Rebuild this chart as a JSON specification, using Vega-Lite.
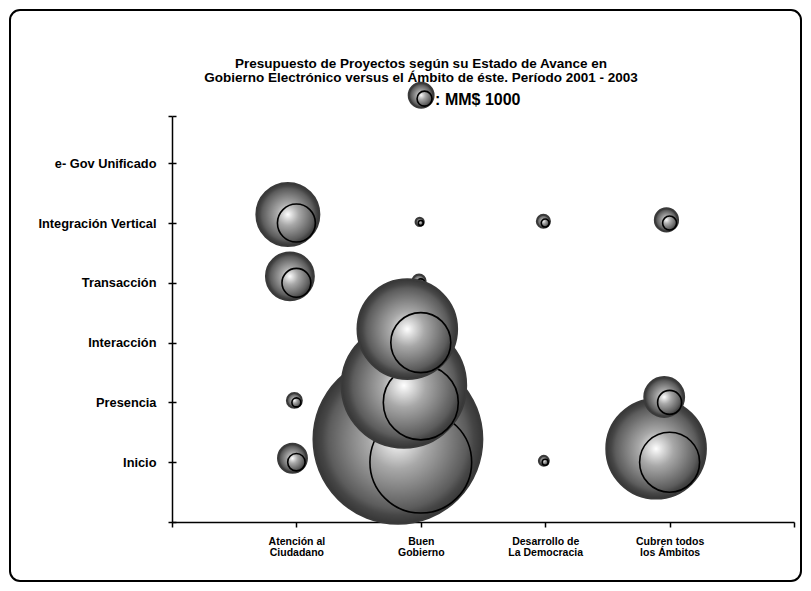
{
  "$schema": "https://vega.github.io/schema/vega-lite/v6.json",
  "width": 791,
  "height": 571,
  "padding": 10,
  "autosize": "none",
  "background": "white",
  "config": {
    "view": {"stroke": "black", "strokeWidth": 2, "cornerRadius": 10},
    "font": "Liberation Sans"
  },
  "title": {
    "text": ["Presupuesto de Proyectos según su Estado de Avance en", "Gobierno Electrónico versus el Ámbito de éste. Período 2001 - 2003"],
    "anchor": "middle",
    "frame": "group",
    "dx": 15.5,
    "offset": -88,
    "baseline": "bottom",
    "font": "Liberation Sans",
    "fontSize": 13.5,
    "fontWeight": "bold",
    "color": "black",
    "lineHeight": 14
  },
  "datasets": {
    "burbujas": [
      {"ambito": "Buen Gobierno", "estado": "Inicio", "x": 2, "y": 1, "v": 46000},
      {"ambito": "Cubren todos los Ámbitos", "estado": "Inicio", "x": 4, "y": 1, "v": 16000},
      {"ambito": "Atención al Ciudadano", "estado": "Integración Vertical", "x": 1, "y": 5, "v": 6400},
      {"ambito": "Atención al Ciudadano", "estado": "Transacción", "x": 1, "y": 4, "v": 3700},
      {"ambito": "Cubren todos los Ámbitos", "estado": "Presencia", "x": 4, "y": 2, "v": 2560},
      {"ambito": "Atención al Ciudadano", "estado": "Inicio", "x": 1, "y": 1, "v": 1350},
      {"ambito": "Cubren todos los Ámbitos", "estado": "Integración Vertical", "x": 4, "y": 5, "v": 870},
      {"ambito": "Atención al Ciudadano", "estado": "Presencia", "x": 1, "y": 2, "v": 360},
      {"ambito": "Buen Gobierno", "estado": "Transacción", "x": 2, "y": 4, "v": 280},
      {"ambito": "Desarrollo de La Democracia", "estado": "Integración Vertical", "x": 3, "y": 5, "v": 280},
      {"ambito": "Desarrollo de La Democracia", "estado": "Inicio", "x": 3, "y": 1, "v": 160},
      {"ambito": "Buen Gobierno", "estado": "Integración Vertical", "x": 2, "y": 5, "v": 110},
      {"ambito": "Buen Gobierno", "estado": "Presencia", "x": 2, "y": 2, "v": 25000},
      {"ambito": "Buen Gobierno", "estado": "Interacción", "x": 2, "y": 3, "v": 16000}
    ],
    "leyenda": [
      {"etiqueta": ": MM$ 1000", "v": 1000}
    ]
  },
  "layer": [
    {
      "data": {"name": "burbujas"},
      "transform": [{"filter": "!(datum.x == 2 && (datum.y == 2 || datum.y == 3))"}],
      "mark": {"type": "point", "shape": "circle", "filled": true, "opacity": 1, "fillOpacity": 1, "stroke": "#3a3a3a", "strokeWidth": 2,
        "xOffset": {"expr": "-3.375*sqrt(datum.v/1000)"}, "yOffset": {"expr": "-3.375*sqrt(datum.v/1000)"},
        "fill": {"gradient": "radial", "x1": 0.5, "y1": 0.5, "r1": 0, "x2": 0.5, "y2": 0.5, "r2": 0.5,
          "stops": [{"offset": 0, "color": "#ffffff"}, {"offset": 0.12, "color": "#e0e0e0"}, {"offset": 0.35, "color": "#a8a8a8"}, {"offset": 0.6, "color": "#808080"}, {"offset": 0.82, "color": "#5c5c5c"}, {"offset": 0.9, "color": "#464646"}, {"offset": 1, "color": "#363636"}]}},
      "encoding": {
        "x": {"field": "x", "type": "quantitative", "scale": {"domain": [0, 5], "range": [162, 784], "nice": false, "zero": false},
          "axis": {"title": null, "orient": "bottom", "offset": -59, "values": [0, 1, 2, 3, 4, 5], "grid": false, "domainColor": "black", "domainWidth": 1.5, "tickColor": "black", "tickWidth": 1.5, "tickSize": 5,
            "labelExpr": "datum.value == 1 ? ['Atención al', 'Ciudadano'] : datum.value == 2 ? ['Buen', 'Gobierno'] : datum.value == 3 ? ['Desarrollo de', 'La Democracia'] : datum.value == 4 ? ['Cubren todos', 'los Ámbitos'] : ''",
            "labelFont": "Liberation Sans", "labelFontWeight": "bold", "labelFontSize": 10.5, "labelColor": "black", "labelLineHeight": 11, "labelPadding": 9, "labelOverlap": false, "labelFlush": false, "labelBaseline": "top"}},
        "y": {"field": "y", "type": "quantitative", "scale": {"domain": [0, 6.79], "range": [512, 106], "nice": false, "zero": false},
          "axis": {"title": null, "orient": "left", "offset": -162, "values": [0, 1, 2, 3, 4, 5, 6, 6.79], "grid": false, "domainColor": "black", "domainWidth": 1.5, "tickColor": "black", "tickWidth": 1.5, "tickSize": 4,
            "labelExpr": "datum.value == 1 ? 'Inicio' : datum.value == 2 ? 'Presencia' : datum.value == 3 ? 'Interacción' : datum.value == 4 ? 'Transacción' : datum.value == 5 ? 'Integración Vertical' : datum.value == 6 ? 'e- Gov Unificado' : ''",
            "labelFont": "Liberation Sans", "labelFontWeight": "bold", "labelFontSize": 12.8, "labelColor": "black", "labelPadding": 12, "labelOverlap": false, "labelFlush": false}},
        "size": {"field": "v", "type": "quantitative", "scale": {"type": "linear", "domain": [0, 1000], "range": [0, 620], "zero": true}, "legend": null}
      }
    },
    {
      "data": {"name": "burbujas"},
      "transform": [{"filter": "!(datum.x == 2 && (datum.y == 2 || datum.y == 3))"}],
      "mark": {"type": "point", "shape": "circle", "filled": false, "opacity": 1, "stroke": "black", "strokeWidth": 1.6},
      "encoding": {
        "x": {"field": "x", "type": "quantitative", "scale": {"domain": [0, 5], "range": [162, 784], "nice": false, "zero": false}},
        "y": {"field": "y", "type": "quantitative", "scale": {"domain": [0, 6.79], "range": [512, 106], "nice": false, "zero": false}, "axis": null},
        "size": {"field": "v", "type": "quantitative", "scale": {"type": "linear", "domain": [0, 1000], "range": [0, 225], "zero": true}, "legend": null}
      }
    },
    {
      "data": {"name": "burbujas"},
      "transform": [{"filter": "datum.x == 2 && datum.y == 2"}],
      "mark": {"type": "point", "shape": "circle", "filled": true, "opacity": 1, "fillOpacity": 1, "stroke": "#3a3a3a", "strokeWidth": 2,
        "xOffset": {"expr": "-3.375*sqrt(datum.v/1000)"}, "yOffset": {"expr": "-3.375*sqrt(datum.v/1000)"},
        "fill": {"gradient": "radial", "x1": 0.5, "y1": 0.5, "r1": 0, "x2": 0.5, "y2": 0.5, "r2": 0.5,
          "stops": [{"offset": 0, "color": "#ffffff"}, {"offset": 0.12, "color": "#e0e0e0"}, {"offset": 0.35, "color": "#a8a8a8"}, {"offset": 0.6, "color": "#808080"}, {"offset": 0.82, "color": "#5c5c5c"}, {"offset": 0.9, "color": "#464646"}, {"offset": 1, "color": "#363636"}]}},
      "encoding": {
        "x": {"field": "x", "type": "quantitative", "scale": {"domain": [0, 5], "range": [162, 784], "nice": false, "zero": false}},
        "y": {"field": "y", "type": "quantitative", "scale": {"domain": [0, 6.79], "range": [512, 106], "nice": false, "zero": false}, "axis": null},
        "size": {"field": "v", "type": "quantitative", "scale": {"type": "linear", "domain": [0, 1000], "range": [0, 620], "zero": true}, "legend": null}
      }
    },
    {
      "data": {"name": "burbujas"},
      "transform": [{"filter": "datum.x == 2 && datum.y == 2"}],
      "mark": {"type": "point", "shape": "circle", "filled": false, "opacity": 1, "stroke": "black", "strokeWidth": 1.6},
      "encoding": {
        "x": {"field": "x", "type": "quantitative", "scale": {"domain": [0, 5], "range": [162, 784], "nice": false, "zero": false}},
        "y": {"field": "y", "type": "quantitative", "scale": {"domain": [0, 6.79], "range": [512, 106], "nice": false, "zero": false}, "axis": null},
        "size": {"field": "v", "type": "quantitative", "scale": {"type": "linear", "domain": [0, 1000], "range": [0, 225], "zero": true}, "legend": null}
      }
    },
    {
      "data": {"name": "burbujas"},
      "transform": [{"filter": "datum.x == 2 && datum.y == 3"}],
      "mark": {"type": "point", "shape": "circle", "filled": true, "opacity": 1, "fillOpacity": 1, "stroke": "#3a3a3a", "strokeWidth": 2,
        "xOffset": {"expr": "-3.375*sqrt(datum.v/1000)"}, "yOffset": {"expr": "-3.375*sqrt(datum.v/1000)"},
        "fill": {"gradient": "radial", "x1": 0.5, "y1": 0.5, "r1": 0, "x2": 0.5, "y2": 0.5, "r2": 0.5,
          "stops": [{"offset": 0, "color": "#ffffff"}, {"offset": 0.12, "color": "#e0e0e0"}, {"offset": 0.35, "color": "#a8a8a8"}, {"offset": 0.6, "color": "#808080"}, {"offset": 0.82, "color": "#5c5c5c"}, {"offset": 0.9, "color": "#464646"}, {"offset": 1, "color": "#363636"}]}},
      "encoding": {
        "x": {"field": "x", "type": "quantitative", "scale": {"domain": [0, 5], "range": [162, 784], "nice": false, "zero": false}},
        "y": {"field": "y", "type": "quantitative", "scale": {"domain": [0, 6.79], "range": [512, 106], "nice": false, "zero": false}, "axis": null},
        "size": {"field": "v", "type": "quantitative", "scale": {"type": "linear", "domain": [0, 1000], "range": [0, 620], "zero": true}, "legend": null}
      }
    },
    {
      "data": {"name": "burbujas"},
      "transform": [{"filter": "datum.x == 2 && datum.y == 3"}],
      "mark": {"type": "point", "shape": "circle", "filled": false, "opacity": 1, "stroke": "black", "strokeWidth": 1.6},
      "encoding": {
        "x": {"field": "x", "type": "quantitative", "scale": {"domain": [0, 5], "range": [162, 784], "nice": false, "zero": false}},
        "y": {"field": "y", "type": "quantitative", "scale": {"domain": [0, 6.79], "range": [512, 106], "nice": false, "zero": false}, "axis": null},
        "size": {"field": "v", "type": "quantitative", "scale": {"type": "linear", "domain": [0, 1000], "range": [0, 225], "zero": true}, "legend": null}
      }
    },
    {
      "data": {"name": "leyenda"},
      "mark": {"type": "point", "shape": "circle", "filled": true, "opacity": 1, "fillOpacity": 1, "stroke": "#3a3a3a", "strokeWidth": 2,
        "xOffset": {"expr": "-3.375*sqrt(datum.v/1000)"}, "yOffset": {"expr": "-3.375*sqrt(datum.v/1000)"},
        "fill": {"gradient": "radial", "x1": 0.5, "y1": 0.5, "r1": 0, "x2": 0.5, "y2": 0.5, "r2": 0.5,
          "stops": [{"offset": 0, "color": "#ffffff"}, {"offset": 0.12, "color": "#e0e0e0"}, {"offset": 0.35, "color": "#a8a8a8"}, {"offset": 0.6, "color": "#808080"}, {"offset": 0.82, "color": "#5c5c5c"}, {"offset": 0.9, "color": "#464646"}, {"offset": 1, "color": "#363636"}]}},
      "encoding": {
        "x": {"datum": 2.03, "type": "quantitative", "scale": {"domain": [0, 5], "range": [162, 784], "nice": false, "zero": false}},
        "y": {"datum": 7.08, "type": "quantitative", "scale": {"domain": [0, 6.79], "range": [512, 106], "nice": false, "zero": false},
          "axis": {"title": null, "orient": "right", "offset": -629, "values": [0, 1, 2, 3, 4, 5, 6, 6.79], "grid": false, "domain": false, "ticks": true, "tickColor": "black", "tickWidth": 1.5, "tickSize": 4, "labels": false}},
        "size": {"field": "v", "type": "quantitative", "scale": {"type": "linear", "domain": [0, 1000], "range": [0, 620], "zero": true}, "legend": null}
      }
    },
    {
      "data": {"name": "leyenda"},
      "mark": {"type": "point", "shape": "circle", "filled": false, "opacity": 1, "stroke": "black", "strokeWidth": 1.6},
      "encoding": {
        "x": {"datum": 2.03, "type": "quantitative", "scale": {"domain": [0, 5], "range": [162, 784], "nice": false, "zero": false}},
        "y": {"datum": 7.08, "type": "quantitative", "scale": {"domain": [0, 6.79], "range": [512, 106], "nice": false, "zero": false}, "axis": null},
        "size": {"field": "v", "type": "quantitative", "scale": {"type": "linear", "domain": [0, 1000], "range": [0, 225], "zero": true}, "legend": null}
      }
    },
    {
      "data": {"name": "leyenda"},
      "mark": {"type": "text", "align": "left", "baseline": "middle", "font": "Liberation Sans", "fontSize": 16, "fontWeight": "bold", "color": "black"},
      "encoding": {
        "x": {"datum": 2.115, "type": "quantitative", "scale": {"domain": [0, 5], "range": [162, 784], "nice": false, "zero": false}},
        "y": {"datum": 7.06, "type": "quantitative", "scale": {"domain": [0, 6.79], "range": [512, 106], "nice": false, "zero": false}, "axis": null},
        "text": {"field": "etiqueta"}
      }
    }
  ],
  "resolve": {
    "scale": {"size": "independent"},
    "axis": {"y": "independent"}
  }
}
